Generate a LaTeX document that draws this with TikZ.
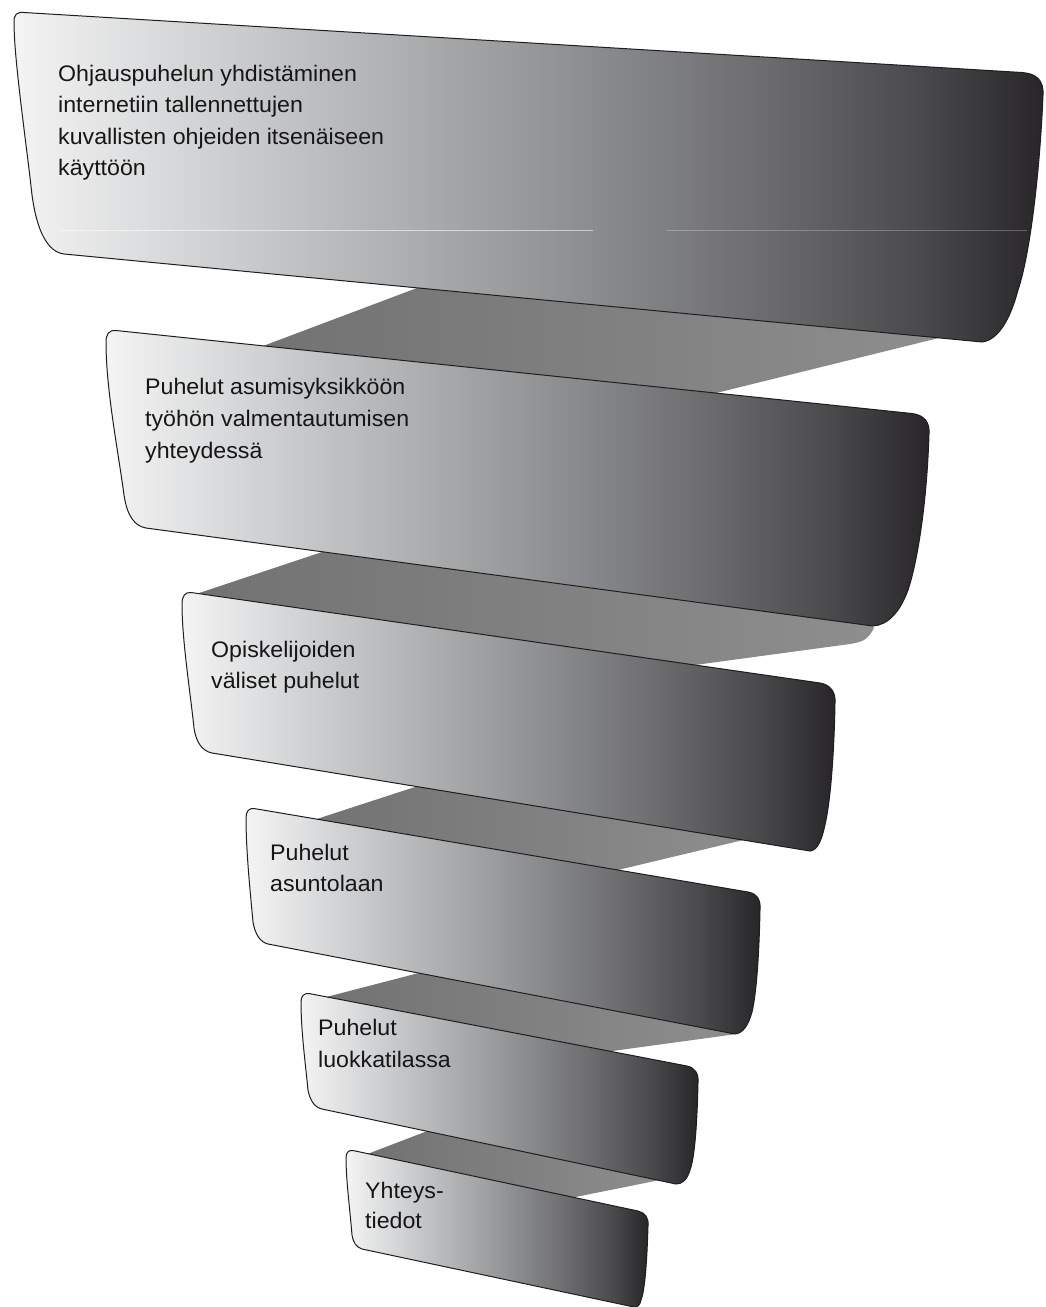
\documentclass[tikz,border=0pt]{standalone}
\usepackage{fontspec}
\setmainfont[FakeStretch=1.03]{Liberation Sans}
\definecolor{b0}{HTML}{F4F4F4}
\definecolor{b1}{HTML}{BEC0C2}
\definecolor{b2}{HTML}{96989A}
\definecolor{b3}{HTML}{6E6E71}
\definecolor{b4}{HTML}{4A4A4D}
\definecolor{b5}{HTML}{272527}
\definecolor{edge}{HTML}{1E1E1E}
\definecolor{txt}{HTML}{161616}
\definecolor{rib1}{HTML}{727272}
\definecolor{rib2}{HTML}{8E8E8E}
\pgfdeclarehorizontalshading{bandshade}{100bp}{color(0bp)=(b0); color(25bp)=(b0); color(39bp)=(b1); color(50bp)=(b2); color(61bp)=(b3); color(69bp)=(b4); color(75bp)=(b5); color(100bp)=(b5)}
\tikzset{
 band/.style={shade, shading=bandshade, draw=edge, line width=1pt, line join=round},
 ribbon/.style={left color=rib1, right color=rib2, draw=none},
 lbl/.style={anchor=base west, inner sep=0pt, text=txt, font=\fontsize{22.5}{27}\selectfont},
 gleam/.style={draw=white, line width=0.8pt}
}
\begin{document}
\begin{tikzpicture}[x=1pt,y=-1pt]
\useasboundingbox (0,0) rectangle (1045,1307);
\clip (0,0) rectangle (1045,1307);
% ribbons (behind)
\path[ribbon] (247.6,351.8) -- (432.4,282.2) -- (951,335) -- (704,396) -- cycle;
\path[ribbon] (190,596) -- (334,548) -- (868,620) -- (874,628) .. controls (868,640) and (862,642) .. (850,644) -- (680,667) -- cycle;
\path[ribbon] (306,822.5) -- (428,782.7) -- (752.5,837.8) -- (612,871.4) -- cycle;
\path[ribbon] (317,999.4) -- (428,970.6) -- (742,1010) -- (742,1024) -- (733,1034.5) -- (605,1052) -- cycle;
\path[ribbon] (364,1155.3) -- (436,1127.7) -- (672,1172) -- (670,1178) -- (568,1198.5) -- cycle;
% bands
\path[band] (14,22) .. controls (14,14) and (17,12) .. (24,12.5)
  -- (1022,72.5) .. controls (1036,73.5) and (1044,80) .. (1043,95)
  .. controls (1040,170) and (1030,255) .. (1018,290)
  .. controls (1010,320) and (998,340) .. (982,342)
  -- (64,254) .. controls (48,252) and (37,232) .. (32,195)
  .. controls (26,140) and (14,60) .. (14,22) -- cycle;
\path[gleam, opacity=0.55] (60,230) -- (593,230);
\path[gleam, opacity=0.25] (667,230) -- (1027,230);
\path[band] (106,342) .. controls (106,334) and (109,330) .. (116,330.5)
  -- (912,413.5) .. controls (924,415) and (930,422) .. (929,434)
  .. controls (927,500) and (918,560) .. (908,590)
  .. controls (900,612) and (888,625) .. (873,626)
  -- (146,528) .. controls (134,526) and (127,515) .. (124,495)
  .. controls (118,450) and (106,390) .. (106,342) -- cycle;
\path[band] (182,604) .. controls (182,596) and (185,592) .. (191,592.5)
  -- (820,683) .. controls (830,684.5) and (836,692) .. (835,703)
  .. controls (834,760) and (830,800) .. (826,820)
  .. controls (822,840) and (818,850) .. (810,851)
  -- (212,753) .. controls (202,751) and (196,742) .. (194,728)
  .. controls (190,690) and (182,640) .. (182,604) -- cycle;
\path[band] (246,818) .. controls (246,811) and (249,808) .. (254,808.5)
  -- (748,892) .. controls (757,893.5) and (761,900) .. (760,910)
  .. controls (759,960) and (756,995) .. (752,1012)
  .. controls (748,1026) and (743,1033) .. (735,1034)
  -- (268,944) .. controls (260,942) and (255,934) .. (253,922)
  .. controls (250,890) and (246,850) .. (246,818) -- cycle;
\path[band] (301,1002) .. controls (301,996) and (304,993) .. (309,993.5)
  -- (687,1066) .. controls (695,1067.5) and (699,1074) .. (698,1083)
  .. controls (697,1130) and (694,1160) .. (690,1170)
  .. controls (687,1180) and (682,1184) .. (676,1184)
  -- (322,1109) .. controls (314,1107) and (310,1100) .. (308,1090)
  .. controls (305,1060) and (301,1030) .. (301,1002) -- cycle;
\path[band] (346,1158) .. controls (346,1152) and (349,1150) .. (353,1150.5)
  -- (638,1211) .. controls (645,1212.5) and (649,1218) .. (648,1226)
  .. controls (647,1260) and (645,1290) .. (641,1300)
  .. controls (640,1305) and (638,1307) .. (634,1307)
  -- (362,1249) .. controls (356,1247) and (353,1242) .. (352,1235)
  .. controls (350,1210) and (346,1180) .. (346,1158) -- cycle;
% labels
\node[lbl] (t1a) at (58,81) {Ohjauspuhelun yhdistäminen};
\node[lbl] (t1b) at (58,112.5) {internetiin tallennettujen};
\node[lbl] (t1c) at (58,144) {kuvallisten ohjeiden itsenäiseen};
\node[lbl] (t1d) at (58,175.5) {käyttöön};
\node[lbl] (t2a) at (145,394) {Puhelut asumisyksikköön};
\node[lbl] (t2b) at (145,426) {työhön valmentautumisen};
\node[lbl] (t2c) at (145,458) {yhteydessä};
\node[lbl] (t3a) at (211,657) {Opiskelijoiden};
\node[lbl] (t3b) at (211,688) {väliset puhelut};
\node[lbl] (t4a) at (270,860) {Puhelut};
\node[lbl] (t4b) at (270,891) {asuntolaan};
\node[lbl] (t5a) at (318,1035) {Puhelut};
\node[lbl] (t5b) at (318,1067) {luokkatilassa};
\node[lbl] (t6a) at (365,1198) {Yhteys-};
\node[lbl] (t6b) at (365,1228) {tiedot};
\end{tikzpicture}
\end{document}
